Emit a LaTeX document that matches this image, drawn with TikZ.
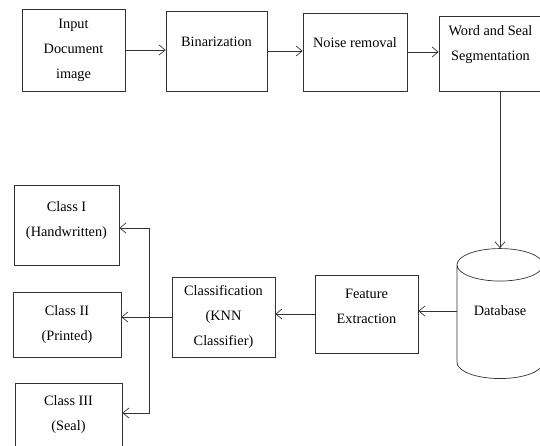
\documentclass[tikz,border=0pt]{standalone}
\usepackage{fontspec}
\setmainfont{Liberation Serif}
\usetikzlibrary{shapes.geometric, arrows.meta, positioning, calc}

\begin{document}
\begin{tikzpicture}[
    x=1pt, y=-1pt,
    font=\fontsize{14.3}{25}\selectfont,
    stagebox/.style={draw=black!80, line width=0.7pt, minimum width=103pt, minimum height=80pt, align=center, inner sep=2pt},
    dbshape/.style={draw=black!80, line width=0.7pt, cylinder, shape border rotate=90, aspect=0.55, minimum width=86pt, minimum height=130pt},
    arrow/.style={-{Straight Barb[length=6pt,width=10pt]}, line width=0.7pt, color=black!80}
]
\useasboundingbox (0,0) rectangle (540,446);

% === TOP ROW ===
\node[stagebox, minimum height=82pt] (inp) at (73.5,50) {Input\\Document\\image};
\node[stagebox, minimum width=101pt, text depth=19pt] (bin) at (216.5,51) {Binarization};
\node[stagebox, minimum width=104pt, minimum height=78pt, text depth=19pt] (noise) at (355,52) {Noise removal};
\node[stagebox, minimum height=75pt, text depth=20pt] (seg) at (490.5,53.5) {Word and Seal\\Segmentation};

% === DATABASE AND FEATURES ===
\node[dbshape, text depth=28pt] (db) at (500,325) {Database};
\node[stagebox, minimum height=78pt, text depth=16pt] (feat) at (366.5,314) {Feature\\Extraction};
\node[stagebox] (cls) at (223.5,317) {Classification\\(KNN\\Classifier)};

% === CLASSES ===
\node[stagebox, minimum width=105pt, text depth=12pt] (c1) at (66.5,225) {Class I\\(Handwritten)};
\node[stagebox, minimum width=108pt, minimum height=65pt] (c2) at (67,324.5) {Class II\\(Printed)};
\node[stagebox, minimum width=107pt, minimum height=77pt, text depth=16pt] (c3) at (68.5,421.5) {Class III\\(Seal)};

% === CONNECTORS ===
\draw[arrow] (inp.east) -- (inp.east -| bin.west);
\draw[arrow] (bin.east) -- (bin.east -| noise.west);
\draw[arrow] (noise.east) -- (noise.east -| seg.west);
\draw[arrow] (seg.south -| db.north) -- (db.north);
\draw[arrow] ([yshift=14pt]db.west) -- ([yshift=14pt]db.west -| feat.east);
\draw[arrow] (feat.west) -- (feat.west -| cls.east);

\coordinate (bus) at ($(cls.west)+(-22,0)$);
\draw[draw=black!80, line width=0.7pt] (cls.west) -- (bus);
\draw[arrow] (bus) -- (bus -| c2.east);
\draw[arrow] (bus) |- ([yshift=-3pt]c1.east);
\draw[arrow] (bus) |- ([yshift=8.5pt]c3.east);

\end{tikzpicture}
\end{document}
